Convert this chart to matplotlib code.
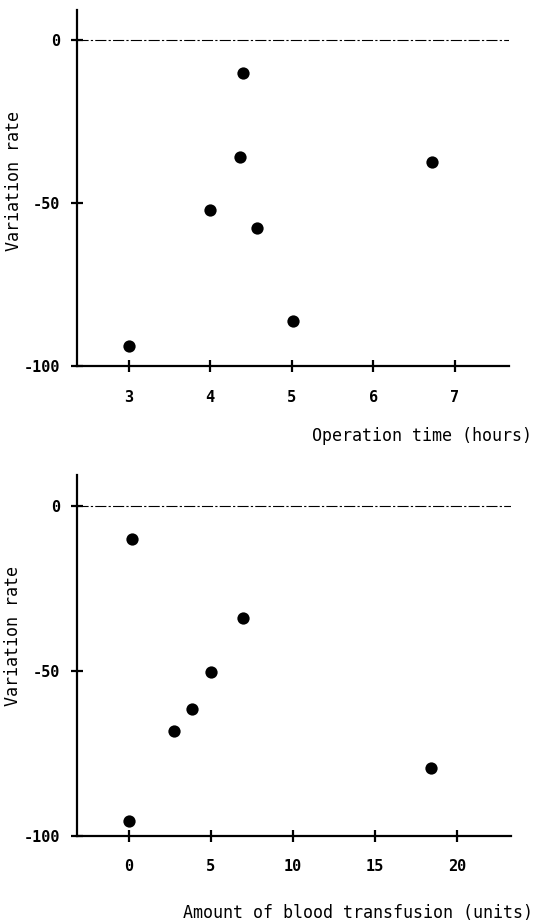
import matplotlib
matplotlib.use("Agg")
import matplotlib.pyplot as plt

# Data
op_time_hours = [3.0, 4.0, 4.37, 4.40, 4.57, 5.02, 6.72]
op_time_rate = [-94.0, -52.0, -36.0, -10.0, -57.6, -86.2, -37.4]

transfusion_units = [0.2, 0.0, 2.8, 3.85, 5.0, 7.0, 18.45]
transfusion_rate = [-10.2, -95.4, -68.4, -61.5, -50.3, -34.0, -79.4]

top_xticks = [3, 4, 5, 6, 7]
bottom_xticks = [0, 5, 10, 15, 20]
yticks = [0, -50, -100]
ylabel_text = "Variation rate"
top_xlabel = "Operation time (hours)"
bottom_xlabel = "Amount of blood transfusion (units)"

mono = "DejaVu Sans Mono"
fig = plt.figure(figsize=(5.35, 9.22), dpi=100)

ax1 = fig.add_axes([0.144, 0.603, 0.807, 0.386])
ax2 = fig.add_axes([0.143, 0.0936, 0.812, 0.3914])


def style(ax, xs, ys, xlim, ylim, xticks, xlabel, xlab_pos, ylab_pos):
    ax.scatter(xs, ys, s=78, color="black", zorder=3, linewidths=0)
    ax.axhline(0, color="black", lw=0.8, linestyle=(0, (10, 2, 2, 2)), zorder=1)
    ax.set_xlim(*xlim)
    ax.set_ylim(*ylim)
    for s in ["top", "right"]:
        ax.spines[s].set_visible(False)
    for s in ["left", "bottom"]:
        ax.spines[s].set_linewidth(1.6)
    ax.set_xticks(xticks)
    ax.set_xticklabels([str(t) for t in xticks], fontfamily=mono, fontsize=11, fontweight="bold")
    ax.set_yticks(yticks)
    ax.set_yticklabels([str(t) for t in yticks], fontfamily=mono, fontsize=11, fontweight="bold")
    ax.tick_params(axis="x", direction="inout", length=8, width=1.6, pad=13)
    ax.tick_params(axis="y", direction="inout", length=8, width=1.6, pad=8)
    ax.set_ylabel(ylabel_text, fontfamily=mono, fontsize=12)
    ax.yaxis.set_label_coords(*ylab_pos)
    ax.set_xlabel(xlabel, fontfamily=mono, fontsize=12, ha="right")
    ax.xaxis.set_label_coords(*xlab_pos)


style(ax1, op_time_hours, op_time_rate, (2.367, 7.66), (-100, 9.2), top_xticks,
      top_xlabel, (1.053, -0.172), (-0.125, 0.52))
style(ax2, transfusion_units, transfusion_rate, (-3.17, 23.3), (-100, 9.4), bottom_xticks,
      bottom_xlabel, (1.051, -0.188), (-0.125, 0.554))

fig.savefig("out.png", dpi=100)
